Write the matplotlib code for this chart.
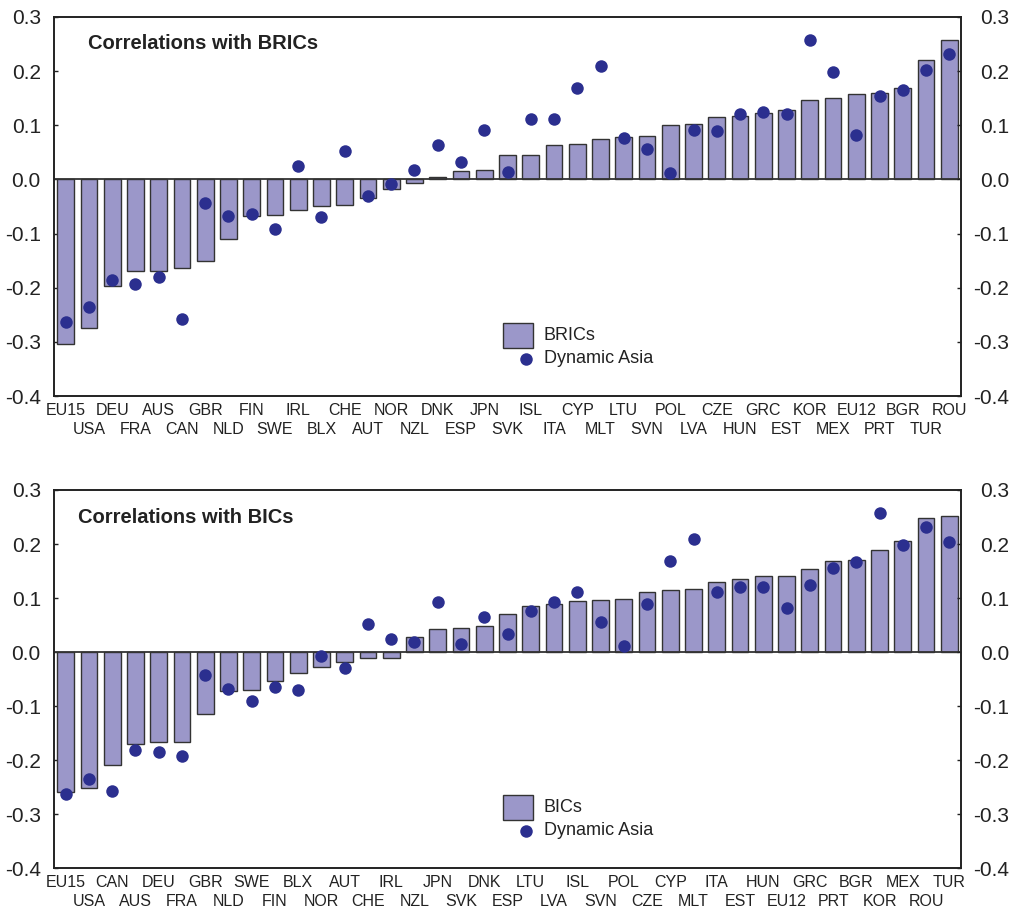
import matplotlib
matplotlib.use("Agg")
import matplotlib.pyplot as plt
from matplotlib.patches import Rectangle

plt.rcParams['font.family'] = ['Liberation Sans', 'DejaVu Sans']

# ---- Data -------------------------------------------------------------
top_countries = ["EU15", "USA", "DEU", "FRA", "AUS", "CAN", "GBR", "NLD", "FIN", "SWE",
                 "IRL", "BLX", "CHE", "AUT", "NOR", "NZL", "DNK", "ESP", "JPN", "SVK",
                 "ISL", "ITA", "CYP", "MLT", "LTU", "SVN", "POL", "LVA", "CZE", "HUN",
                 "GRC", "EST", "KOR", "MEX", "EU12", "PRT", "BGR", "TUR", "ROU"]
bric_values = [-0.304, -0.274, -0.196, -0.169, -0.169, -0.164, -0.150, -0.110, -0.068, -0.065,
               -0.057, -0.049, -0.048, -0.035, -0.018, -0.007, 0.004, 0.015, 0.017, 0.046,
               0.046, 0.063, 0.065, 0.075, 0.079, 0.081, 0.100, 0.103, 0.116, 0.118,
               0.122, 0.129, 0.147, 0.150, 0.158, 0.160, 0.169, 0.221, 0.257]
# Dynamic Asia correlations, in top_countries order
asia_values = [-0.263, -0.235, -0.186, -0.193, -0.181, -0.257, -0.043, -0.068, -0.064, -0.091,
               0.024, -0.070, 0.052, -0.030, -0.008, 0.018, 0.064, 0.033, 0.092, 0.014,
               0.111, 0.111, 0.169, 0.209, 0.076, 0.056, 0.012, 0.092, 0.089, 0.121,
               0.125, 0.120, 0.257, 0.198, 0.082, 0.155, 0.166, 0.203, 0.232]

bottom_countries = ["EU15", "USA", "CAN", "AUS", "DEU", "FRA", "GBR", "NLD", "SWE", "FIN",
                    "BLX", "NOR", "AUT", "CHE", "IRL", "NZL", "JPN", "SVK", "DNK", "ESP",
                    "LTU", "LVA", "ISL", "SVN", "POL", "CZE", "CYP", "MLT", "ITA", "EST",
                    "HUN", "EU12", "GRC", "PRT", "BGR", "KOR", "MEX", "ROU", "TUR"]
bic_values = [-0.259, -0.251, -0.209, -0.171, -0.167, -0.166, -0.114, -0.073, -0.070, -0.053,
              -0.039, -0.028, -0.019, -0.011, -0.011, 0.027, 0.043, 0.045, 0.049, 0.070,
              0.085, 0.089, 0.095, 0.097, 0.098, 0.111, 0.114, 0.117, 0.130, 0.136,
              0.140, 0.141, 0.154, 0.169, 0.171, 0.189, 0.205, 0.248, 0.252]

y_ticks = [0.3, 0.2, 0.1, 0.0, -0.1, -0.2, -0.3, -0.4]

BAR_COLOR = "#9b97c9"
EDGE_COLOR = "#333333"
DOT_COLOR = "#2b2f8f"
TEXT_COLOR = "#222222"

asia_lookup = dict(zip(top_countries, asia_values))

fig = plt.figure(figsize=(10.13, 9.11), dpi=100)
W, H = 1013, 911


def draw_legend(ax, bar_label):
    t = ax.transAxes
    ax.add_patch(Rectangle((0.495, 0.1266), 0.0331, 0.066, transform=t,
                           facecolor=BAR_COLOR, edgecolor=EDGE_COLOR, linewidth=1.0,
                           clip_on=False, zorder=5))
    ax.text(0.540, 0.1596, bar_label, transform=t, fontsize=13, ha="left", va="center",
            color=TEXT_COLOR, zorder=5)
    ax.plot([0.520], [0.0980], transform=t, linestyle="none", marker="o", markersize=9,
            color=DOT_COLOR, markeredgewidth=0, clip_on=False, zorder=5)
    ax.text(0.540, 0.0980, "Dynamic Asia", transform=t, fontsize=13, ha="left",
            va="center", color=TEXT_COLOR, zorder=5)


def make_panel(rect_px, countries, values, title, title_x, title_y, bar_label):
    left, top, right, bottom = rect_px
    ax = fig.add_axes([left / W, 1 - bottom / H, (right - left) / W, (bottom - top) / H])
    x = list(range(len(countries)))
    dots = [asia_lookup[c] for c in countries]
    ax.bar(x, values, width=0.72, color=BAR_COLOR, edgecolor=EDGE_COLOR, linewidth=1.0, zorder=2)
    ax.plot(x, dots, linestyle="none", marker="o", markersize=9, color=DOT_COLOR,
            markeredgewidth=0, zorder=4)
    ax.axhline(0, color=EDGE_COLOR, linewidth=1.3, zorder=3)
    ax.set_xlim(-0.5, len(countries) - 0.5)
    ax.set_ylim(-0.4, 0.3)
    labels = [f"{v:.1f}" for v in y_ticks]
    ax.set_yticks(y_ticks)
    ax.set_yticklabels(labels)
    ax.tick_params(axis="y", direction="in", length=3, width=1, labelsize=15,
                   left=True, right=False, labelleft=True, labelright=False, pad=9.5,
                   colors=TEXT_COLOR)
    ax2 = ax.twinx()
    ax2.set_ylim(-0.4, 0.3)
    ax2.set_yticks(y_ticks)
    ax2.set_yticklabels(labels, ha="right")
    ax2.tick_params(axis="y", direction="in", length=3, width=1, labelsize=15,
                    pad=34.5, colors=TEXT_COLOR)

    even = [i for i in x if i % 2 == 0]
    odd = [i for i in x if i % 2 == 1]
    ax.set_xticks(even)
    ax.set_xticklabels([countries[i] for i in even], fontsize=11.5, color=TEXT_COLOR)
    ax.set_xticks(odd, minor=True)
    ax.set_xticklabels([countries[i] for i in odd], minor=True, fontsize=11.5, color=TEXT_COLOR)
    ax.tick_params(axis="x", which="major", length=0, pad=5.0)
    ax.tick_params(axis="x", which="minor", length=0, pad=18.6)

    for a in (ax, ax2):
        for s in a.spines.values():
            s.set_color(TEXT_COLOR)
            s.set_linewidth(1.2)
    ax.text(title_x, title_y, title, transform=ax.transAxes,
            fontsize=14.5, fontweight="bold", ha="left", va="center", color=TEXT_COLOR)
    draw_legend(ax2, bar_label)
    return ax


make_panel((54, 17, 961, 396), top_countries, bric_values,
           "Correlations with BRICs", 0.038, 0.929, "BRICs")
make_panel((54, 490, 961, 868), bottom_countries, bic_values,
           "Correlations with BICs", 0.026, 0.927, "BICs")

fig.savefig("out.png", dpi=100, facecolor="white")
